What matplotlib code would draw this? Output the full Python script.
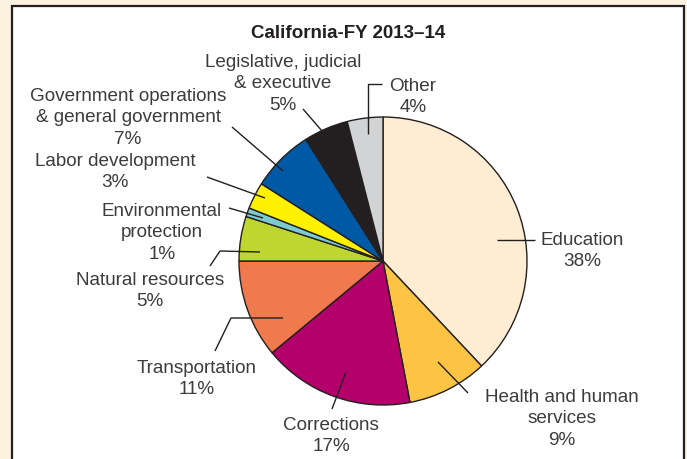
import matplotlib
matplotlib.use("Agg")
import matplotlib.pyplot as plt
from matplotlib.patches import Rectangle

# budget shares, clockwise from 12 o'clock
categories = ["Education", "Health and human\nservices", "Corrections", "Transportation",
              "Natural resources", "Environmental\nprotection", "Labor development",
              "Government operations\n& general government",
              "Legislative, judicial\n& executive", "Other"]
shares = [38, 9, 17, 11, 5, 1, 3, 7, 5, 4]
colors = ["#feecd3", "#fdc342", "#b3006b", "#f07a4e", "#c0d630",
          "#7ccbd0", "#fff100", "#0059a4", "#231f20", "#d1d3d4"]

W, H = 687, 460
plt.rcParams["font.family"] = ["Liberation Sans", "DejaVu Sans"]

fig = plt.figure(figsize=(W / 100, H / 100), dpi=100, facecolor="#fdf2e0")
ax = fig.add_axes([0, 0, 1, 1])
ax.set_xlim(0, W)
ax.set_ylim(0, H)
ax.set_aspect("equal")
ax.axis("off")


def py(y):
    # image rows run downward
    return H - y


# white panel with dark frame
ax.add_patch(Rectangle((12, py(470)), 672, 463, facecolor="white",
                       edgecolor="#231f20", lw=1.6, zorder=0))

ax.pie(shares, colors=colors, startangle=90, counterclock=False,
       center=(383, py(262)), radius=144, frame=True,
       wedgeprops=dict(edgecolor="#231f20", linewidth=1.0))
ax.set_xlim(0, W)
ax.set_ylim(0, H)
ax.axis("off")

ax.text(348, py(33), "California-FY 2013\u201314", ha="center", va="center",
        fontsize=13.5, fontweight="bold", color="#231f20")

# label text position and leader line (image pixels)
label_pos = [(582, 251), (562, 419), (331, 436), (197, 379), (150, 291),
             (162, 233), (115, 172), (128, 118), (283, 84), (413, 97)]
leaders = [
    [(497, 241), (535, 241)],
    [(438, 363), (468, 394)],
    [(346, 373), (332, 410)],
    [(283, 319), (231, 319), (215, 352)],
    [(260, 253), (220, 252), (210, 267)],
    [(263, 219), (229, 209)],
    [(265, 199), (207, 178)],
    [(283, 172), (232, 128)],
    [(322, 132), (303, 110)],
    [(368, 135), (368, 85), (382, 85)],
]

for name, val, (tx, ty), pts in zip(categories, shares, label_pos, leaders):
    ax.text(tx, py(ty), f"{name}\n{val}%", ha="center", va="center",
            fontsize=13.6, color="#3c3c3c", linespacing=1.36)
    ax.plot([p[0] for p in pts], [py(p[1]) for p in pts], color="#231f20",
            lw=1.0, solid_capstyle="butt", zorder=5)

fig.savefig("out.png", dpi=100, facecolor=fig.get_facecolor())
